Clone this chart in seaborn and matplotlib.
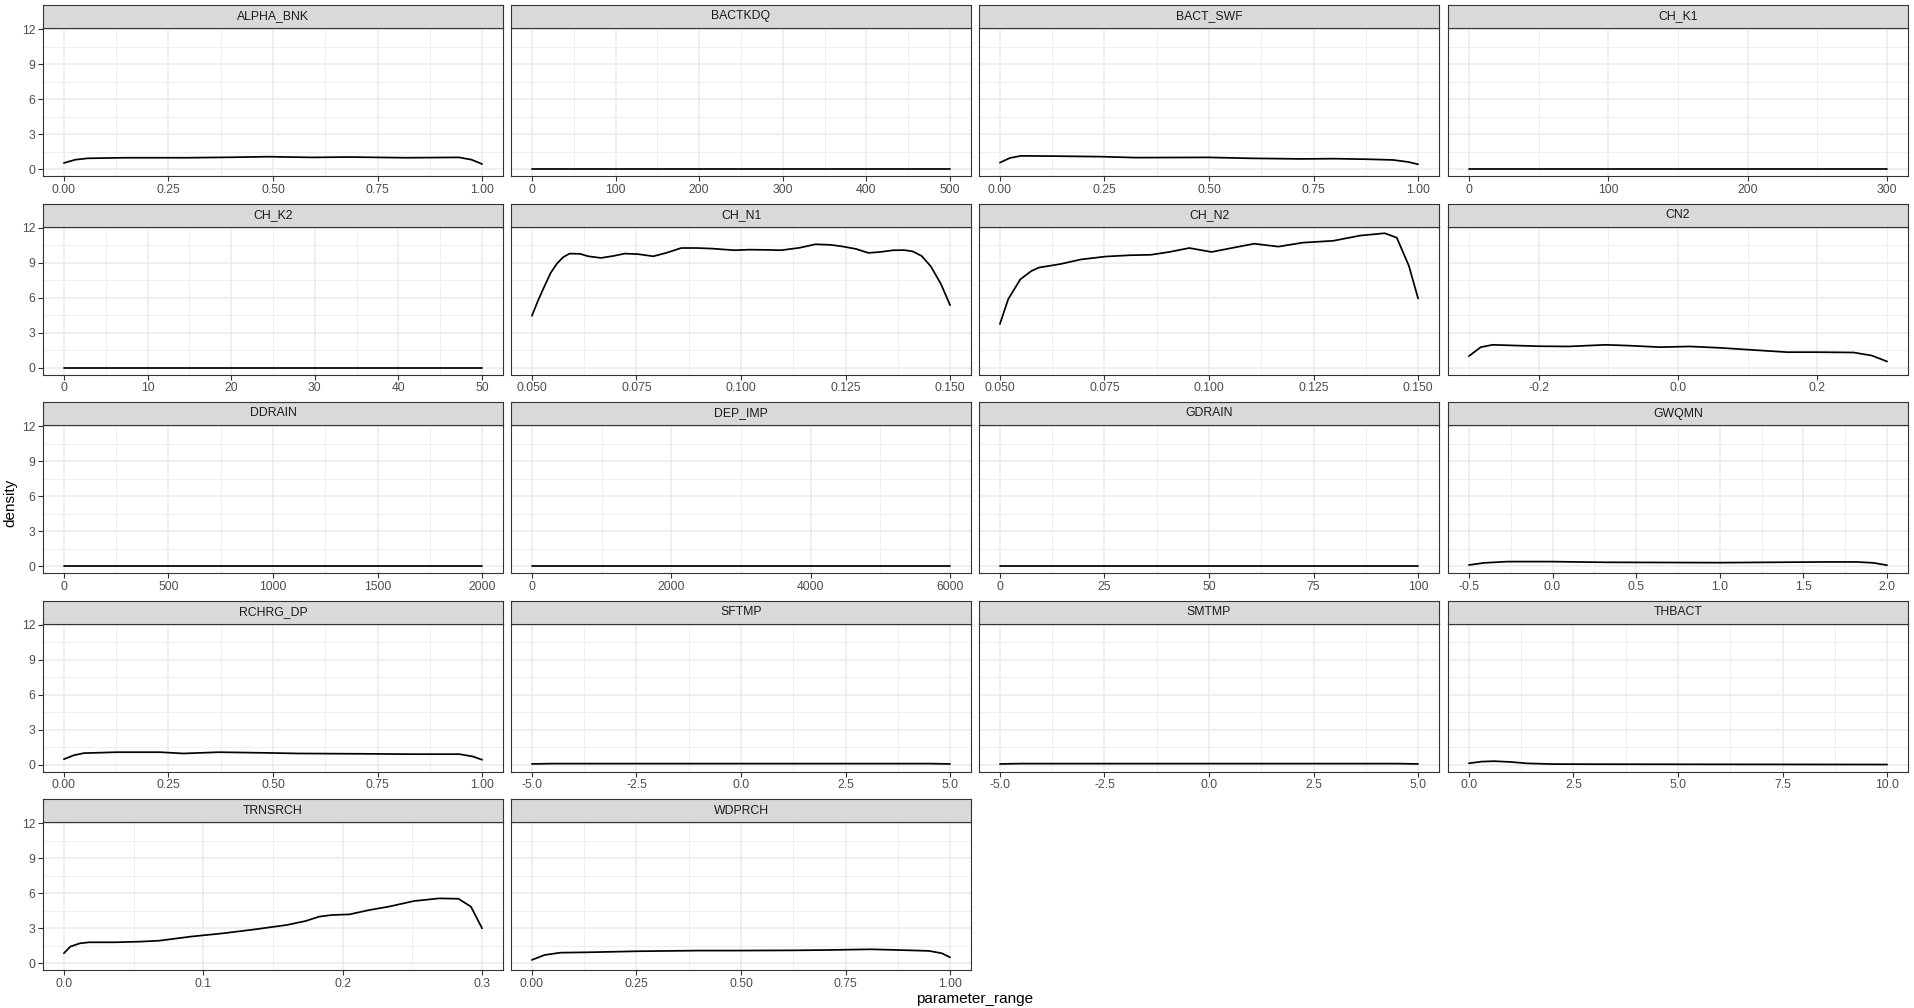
import numpy as np
import pandas as pd
import seaborn as sns
import matplotlib.pyplot as plt

# ---- data (density curves per parameter) ----
params = ['ALPHA_BNK', 'BACTKDQ', 'BACT_SWF', 'CH_K1',
          'CH_K2', 'CH_N1', 'CH_N2', 'CN2',
          'DDRAIN', 'DEP_IMP', 'GDRAIN', 'GWQMN',
          'RCHRG_DP', 'SFTMP', 'SMTMP', 'THBACT',
          'TRNSRCH', 'WDPRCH']

alpha_bnk_x = [0, 0.027, 0.057, 0.146, 0.295, 0.40, 0.49, 0.594, 0.684, 0.818, 0.945, 0.975, 1.0]
alpha_bnk_y = [0.54, 0.82, 0.94, 0.99, 0.99, 1.03, 1.08, 1.02, 1.05, 0.99, 1.02, 0.82, 0.45]

bactkdq_x = [0, 100, 200, 300, 400, 500]
bactkdq_y = [0.002, 0.002, 0.002, 0.002, 0.002, 0.002]

bact_swf_x = [0, 0.024, 0.05, 0.127, 0.246, 0.325, 0.5, 0.6, 0.72, 0.8, 0.88, 0.94, 0.976, 1.0]
bact_swf_y = [0.57, 0.97, 1.15, 1.13, 1.08, 1.0, 1.02, 0.94, 0.89, 0.91, 0.86, 0.8, 0.63, 0.43]

ch_k1_x = [0, 100, 200, 300]
ch_k1_y = [0.003, 0.003, 0.003, 0.003]

ch_k2_x = [0, 10, 20, 30, 40, 50]
ch_k2_y = [0.02, 0.02, 0.02, 0.02, 0.02, 0.02]

ch_n1_x = [0.05, 0.0515, 0.053, 0.0545, 0.056, 0.0575, 0.059, 0.0615, 0.0635, 0.0665,
           0.0695, 0.0722, 0.0755, 0.079, 0.082, 0.0857, 0.0895, 0.0931, 0.0984, 0.102,
           0.106, 0.1096, 0.114, 0.1178, 0.1215, 0.1245, 0.1275, 0.1305, 0.1335, 0.1364,
           0.139, 0.141, 0.1432, 0.1454, 0.1478, 0.15]
ch_n1_y = [4.46, 5.8, 7.0, 8.15, 8.95, 9.5, 9.8, 9.78, 9.57, 9.43,
           9.6, 9.8, 9.75, 9.57, 9.85, 10.28, 10.28, 10.23, 10.09, 10.14,
           10.12, 10.09, 10.3, 10.6, 10.55, 10.4, 10.2, 9.86, 9.95, 10.09,
           10.1, 10.0, 9.6, 8.7, 7.2, 5.37]

ch_n2_x = [0.05, 0.052, 0.0549, 0.0575, 0.0593, 0.0644, 0.0694, 0.0753, 0.0811, 0.0861,
           0.0905, 0.0953, 0.1006, 0.1057, 0.1108, 0.1166, 0.1224, 0.1297, 0.1362, 0.142,
           0.1449, 0.1478, 0.15]
ch_n2_y = [3.76, 5.9, 7.6, 8.3, 8.6, 8.9, 9.3, 9.55, 9.66, 9.7,
           9.94, 10.28, 9.94, 10.3, 10.65, 10.4, 10.74, 10.9, 11.35, 11.55,
           11.17, 8.75, 5.95]

cn2_x = [-0.3, -0.283, -0.266, -0.2, -0.157, -0.104, -0.07, -0.026, 0.017, 0.061,
         0.104, 0.157, 0.2, 0.252, 0.278, 0.3]
cn2_y = [1.0, 1.77, 1.97, 1.85, 1.83, 1.97, 1.9, 1.77, 1.83, 1.71,
         1.54, 1.34, 1.34, 1.31, 1.05, 0.54]

ddrain_x = [0, 500, 1000, 1500, 2000]
ddrain_y = [0.0005, 0.0005, 0.0005, 0.0005, 0.0005]

dep_imp_x = [0, 2000, 4000, 6000]
dep_imp_y = [0.0002, 0.0002, 0.0002, 0.0002]

gdrain_x = [0, 25, 50, 75, 100]
gdrain_y = [0.01, 0.01, 0.01, 0.01, 0.01]

gwqmn_x = [-0.5, -0.41, -0.27, -0.01, 0.32, 1.0, 1.62, 1.82, 1.92, 2.0]
gwqmn_y = [0.11, 0.29, 0.4, 0.4, 0.34, 0.31, 0.37, 0.37, 0.29, 0.09]

rchrg_dp_x = [0, 0.024, 0.048, 0.127, 0.23, 0.286, 0.37, 0.485, 0.56, 0.72, 0.84, 0.946, 0.978, 1.0]
rchrg_dp_y = [0.48, 0.82, 1.0, 1.08, 1.08, 0.97, 1.08, 1.02, 0.97, 0.94, 0.91, 0.91, 0.71, 0.43]

sftmp_x = [-5, -4.5, -2.5, 0, 2.5, 4.5, 5]
sftmp_y = [0.07, 0.1, 0.1, 0.1, 0.1, 0.1, 0.07]

smtmp_x = [-5, -4.5, -2.5, 0, 2.5, 4.5, 5]
smtmp_y = [0.07, 0.1, 0.1, 0.1, 0.1, 0.1, 0.07]

thbact_x = [0, 0.3, 0.6, 1.0, 1.4, 2.0, 3.0, 5.0, 7.5, 10.0]
thbact_y = [0.13, 0.27, 0.31, 0.24, 0.12, 0.06, 0.05, 0.04, 0.03, 0.02]

trnsrch_x = [0, 0.0046, 0.0114, 0.018, 0.0365, 0.055, 0.0685, 0.091, 0.114, 0.137,
             0.16, 0.1735, 0.183, 0.192, 0.205, 0.219, 0.233, 0.251, 0.269, 0.283,
             0.292, 0.3]
trnsrch_y = [0.86, 1.43, 1.71, 1.8, 1.8, 1.86, 1.94, 2.29, 2.57, 2.91,
             3.29, 3.63, 4.0, 4.14, 4.2, 4.57, 4.86, 5.34, 5.57, 5.54,
             4.86, 3.0]

wdprch_x = [0, 0.03, 0.068, 0.13, 0.25, 0.4, 0.49, 0.63, 0.71, 0.81, 0.905, 0.95, 0.98, 1.0]
wdprch_y = [0.29, 0.71, 0.91, 0.94, 1.03, 1.09, 1.09, 1.11, 1.14, 1.2, 1.11, 1.06, 0.86, 0.51]

curves_x = [alpha_bnk_x, bactkdq_x, bact_swf_x, ch_k1_x, ch_k2_x, ch_n1_x, ch_n2_x, cn2_x,
            ddrain_x, dep_imp_x, gdrain_x, gwqmn_x, rchrg_dp_x, sftmp_x, smtmp_x, thbact_x,
            trnsrch_x, wdprch_x]
curves_y = [alpha_bnk_y, bactkdq_y, bact_swf_y, ch_k1_y, ch_k2_y, ch_n1_y, ch_n2_y, cn2_y,
            ddrain_y, dep_imp_y, gdrain_y, gwqmn_y, rchrg_dp_y, sftmp_y, smtmp_y, thbact_y,
            trnsrch_y, wdprch_y]

# x breaks per panel and decimals for their labels
x_breaks = [
    [0, 0.25, 0.5, 0.75, 1.0], [0, 100, 200, 300, 400, 500], [0, 0.25, 0.5, 0.75, 1.0], [0, 100, 200, 300],
    [0, 10, 20, 30, 40, 50], [0.05, 0.075, 0.1, 0.125, 0.15], [0.05, 0.075, 0.1, 0.125, 0.15], [-0.2, 0.0, 0.2],
    [0, 500, 1000, 1500, 2000], [0, 2000, 4000, 6000], [0, 25, 50, 75, 100], [-0.5, 0.0, 0.5, 1.0, 1.5, 2.0],
    [0, 0.25, 0.5, 0.75, 1.0], [-5, -2.5, 0, 2.5, 5], [-5, -2.5, 0, 2.5, 5], [0, 2.5, 5, 7.5, 10],
    [0, 0.1, 0.2, 0.3], [0, 0.25, 0.5, 0.75, 1.0],
]
x_decimals = [2, 0, 2, 0, 0, 3, 3, 1, 0, 0, 0, 1, 2, 1, 1, 1, 1, 2]
y_breaks = [0, 3, 6, 9, 12]

rows = []
for p, xs, ys in zip(params, curves_x, curves_y):
    for xv, yv in zip(xs, ys):
        rows.append((p, xv, yv))
df = pd.DataFrame(rows, columns=['param', 'parameter_range', 'density'])

# ---- styling (ggplot theme_bw look) ----
sns.set_theme(style='white')
plt.rcParams['font.family'] = ['Liberation Sans', 'DejaVu Sans']
plt.rcParams['axes.unicode_minus'] = False

W, H = 1914, 1008
fig = plt.figure(figsize=(W / 100, H / 100), dpi=100)

col_left = [43, 511, 979, 1448]
panel_w = 460
row_top0, row_step = 5, 198.5
strip_h, panel_h = 23, 148

ymax = df['density'].max()
ylim = (-0.05 * ymax, 1.05 * ymax)

GRID = '#EBEBEB'
DARK = '#333333'


def minor_of(br, lo, hi):
    br = list(br)
    step = br[1] - br[0]
    cands = [br[0] - step / 2] + [(a + b) / 2 for a, b in zip(br[:-1], br[1:])] + [br[-1] + step / 2]
    return [c for c in cands if lo <= c <= hi]


for i, p in enumerate(params):
    r, c = divmod(i, 4)
    top = row_top0 + r * row_step
    left = col_left[c]
    # panel axes
    ax = fig.add_axes([left / W, 1 - (top + strip_h + panel_h) / H, panel_w / W, panel_h / H])
    sub = df[df['param'] == p]
    sns.lineplot(data=sub, x='parameter_range', y='density', ax=ax,
                 color='black', linewidth=1.25, sort=True)
    xlo, xhi = sub['parameter_range'].min(), sub['parameter_range'].max()
    pad = 0.05 * (xhi - xlo)
    ax.set_xlim(xlo - pad, xhi + pad)
    ax.set_ylim(*ylim)
    br = x_breaks[i]
    ax.set_xticks(br)
    ax.set_xticklabels([f'{v:.{x_decimals[i]}f}' for v in br])
    ax.set_xticks(minor_of(br, xlo - pad, xhi + pad), minor=True)
    ax.set_yticks(y_breaks)
    ax.set_yticks(minor_of(y_breaks, *ylim), minor=True)
    ax.grid(which='major', color=GRID, linewidth=1.1)
    ax.grid(which='minor', color=GRID, linewidth=0.55)
    ax.set_axisbelow(True)
    ax.set_xlabel('')
    ax.set_ylabel('')
    for s in ax.spines.values():
        s.set_color(DARK)
        s.set_linewidth(0.8)
    ax.tick_params(which='major', length=3.5, width=0.8, color=DARK,
                   labelsize=8.8, labelcolor='#4D4D4D', pad=2, bottom=True, left=True)
    ax.tick_params(which='minor', length=0)
    if c != 0:
        ax.tick_params(axis='y', left=False, labelleft=False)

    # strip
    sax = fig.add_axes([left / W, 1 - (top + strip_h) / H, panel_w / W, strip_h / H])
    sax.set_facecolor('#D9D9D9')
    sax.set_xticks([])
    sax.set_yticks([])
    for s in sax.spines.values():
        s.set_color(DARK)
        s.set_linewidth(0.8)
    sax.text(0.5, 0.5, p, ha='center', va='center', fontsize=8.8,
             color='#1A1A1A', transform=sax.transAxes)

fig.text(975 / W, 1 - 999 / H, 'parameter_range', ha='center', va='center',
         fontsize=11, color='black')
fig.text(10 / W, 1 - 503 / H, 'density', ha='center', va='center',
         rotation=90, fontsize=11, color='black')

fig.savefig('out.png', dpi=100, facecolor='white')
